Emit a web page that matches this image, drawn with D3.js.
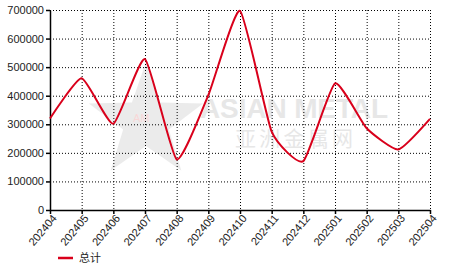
<!DOCTYPE html>
<html>
<head>
<meta charset="utf-8">
<script src="https://cdn.jsdelivr.net/npm/d3@7"></script>
<style>
  body { margin: 0; background: #fff; }
  svg { display: block; font-family: "Liberation Sans", Arial, sans-serif; }
  .grid line { stroke: #000; stroke-dasharray: 1,2; }
  .axis text { fill: #222; font-size: 11px; }
</style>
</head>
<body>
<svg id="chart"></svg>
<script>
const months = ["202404", "202405", "202406", "202407", "202408", "202409", "202410",
  "202411", "202412", "202501", "202502", "202503", "202504"];
const totals = [320000, 461000, 302000, 528000, 177000, 402000, 697000,
  274000, 171000, 443000, 286000, 212000, 319000];
const yTicks = [0, 100000, 200000, 300000, 400000, 500000, 600000, 700000];
const seriesName = "总计";

const W = 466, H = 272;
const margin = { top: 10, right: 36, bottom: 62, left: 50 };
const width = W - margin.left - margin.right;
const height = H - margin.top - margin.bottom;

const svg = d3.select("#chart").attr("width", W).attr("height", H);

// watermark
const wm = svg.append("g").attr("opacity", 0.55);
const star = d3.range(10).map(i => {
  const r = i % 2 ? 24 : 60;
  const a = -Math.PI / 2 + i * Math.PI / 5;
  return [146 + r * Math.cos(a), 122 + r * Math.sin(a)];
});
wm.append("polygon").attr("points", star.join(" ")).attr("fill", "#dcdcdc");
wm.append("text").attr("x", 133).attr("y", 122).attr("fill", "#f4b8b8")
  .attr("font-size", 11).text("AM");
wm.append("text").attr("x", 200).attr("y", 118).attr("fill", "#d4d4d4")
  .attr("font-size", 28).attr("font-weight", "bold").attr("textLength", 188)
  .text("ASIAN METAL");
wm.append("text").attr("x", 235).attr("y", 146).attr("fill", "#d4d4d4")
  .attr("font-size", 21).attr("font-family", "Noto Sans CJK SC").attr("textLength", 118)
  .text("亚洲金属网");

const g = svg.append("g").attr("transform", "translate(" + margin.left + "," + margin.top + ")");

const x = d3.scalePoint().domain(months).range([0, width]);
const y = d3.scaleLinear().domain([0, 700000]).range([height, 0]);

// grid
g.append("g").attr("class", "grid")
  .selectAll("line").data(yTicks.slice(1)).enter().append("line")
  .attr("x1", 0).attr("x2", width)
  .attr("y1", d => y(d) + 0.5).attr("y2", d => y(d) + 0.5);
g.append("g").attr("class", "grid")
  .selectAll("line").data(months.slice(1)).enter().append("line")
  .attr("x1", d => x(d) + 0.5).attr("x2", d => x(d) + 0.5)
  .attr("y1", 0).attr("y2", height);

// axes
const yAxis = g.append("g").attr("class", "axis")
  .call(d3.axisLeft(y).tickValues(yTicks).tickFormat(d3.format("d")).tickSize(4).tickSizeOuter(0));
const xAxis = g.append("g").attr("class", "axis")
  .attr("transform", "translate(0," + height + ")")
  .call(d3.axisBottom(x).tickSize(4).tickSizeOuter(0));
g.selectAll(".axis .domain").attr("stroke", "#000").attr("stroke-width", 1.5);
g.selectAll(".axis .tick line").attr("stroke", "#000").attr("stroke-width", 1.5);
yAxis.selectAll("text").attr("x", -6);
xAxis.selectAll("text")
  .attr("text-anchor", "end")
  .attr("dy", "0.35em")
  .attr("transform", "translate(4,6) rotate(-50)")
  .attr("x", 0).attr("y", 0);

// line
const line = d3.line()
  .x((d, i) => x(months[i]))
  .y(d => y(d))
  .curve(d3.curveCardinal.tension(0.5));
g.append("path").datum(totals)
  .attr("fill", "none").attr("stroke", "#d9001b").attr("stroke-width", 2)
  .attr("d", line);

// legend
const leg = svg.append("g").attr("transform", "translate(58,258)");
leg.append("line").attr("x1", 0).attr("x2", 15).attr("stroke", "#d9001b").attr("stroke-width", 2.5);
leg.append("text").attr("x", 21).attr("y", 4).attr("font-size", 11).attr("fill", "#222")
  .attr("font-family", "Noto Sans CJK SC").text(seriesName);
</script>
</body>
</html>
